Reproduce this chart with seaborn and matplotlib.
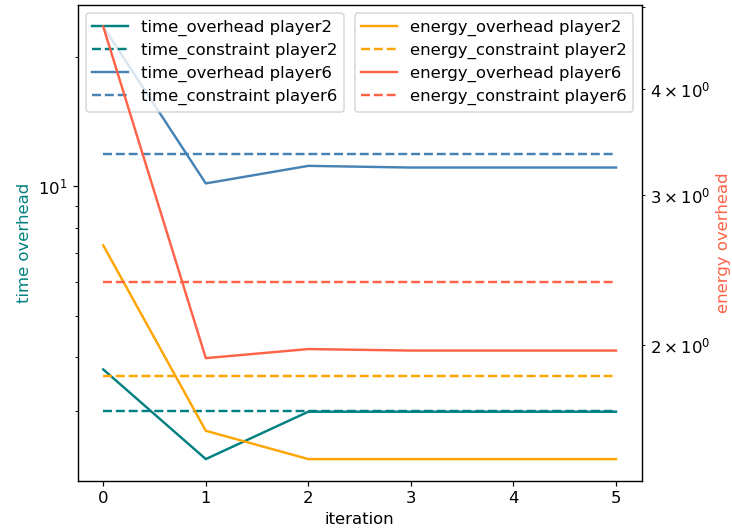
import matplotlib
matplotlib.use("Agg")
import matplotlib.pyplot as plt
import seaborn as sns
import pandas as pd

iterations = [0, 1, 2, 3, 4, 5]

time_overhead_p2 = [3.75, 2.32, 2.99, 2.99, 2.99, 2.99]
time_constraint_p2 = [3.0, 3.0, 3.0, 3.0, 3.0, 3.0]
time_overhead_p6 = [23.5, 10.15, 11.15, 11.05, 11.05, 11.05]
time_constraint_p6 = [11.85, 11.85, 11.85, 11.85, 11.85, 11.85]

energy_overhead_p2 = [2.62, 1.585, 1.468, 1.468, 1.468, 1.468]
energy_constraint_p2 = [1.837, 1.837, 1.837, 1.837, 1.837, 1.837]
energy_overhead_p6 = [4.74, 1.93, 1.978, 1.97, 1.97, 1.97]
energy_constraint_p6 = [2.37, 2.37, 2.37, 2.37, 2.37, 2.37]

time_series = [
    ("time_overhead player2", time_overhead_p2, "teal", "-"),
    ("time_constraint player2", time_constraint_p2, "teal", "--"),
    ("time_overhead player6", time_overhead_p6, "steelblue", "-"),
    ("time_constraint player6", time_constraint_p6, "steelblue", "--"),
]
energy_series = [
    ("energy_overhead player2", energy_overhead_p2, "orange", "-"),
    ("energy_constraint player2", energy_constraint_p2, "orange", "--"),
    ("energy_overhead player6", energy_overhead_p6, "tomato", "-"),
    ("energy_constraint player6", energy_constraint_p6, "tomato", "--"),
]

plt.rcParams["font.size"] = 10.9
plt.rcParams["legend.handlelength"] = 2.15
plt.rcParams["legend.labelspacing"] = 0.42

DPI = 109
fig, ax1 = plt.subplots(figsize=(732 / DPI, 530 / DPI), dpi=DPI)
fig.subplots_adjust(left=0.106, right=0.8766, top=0.9906, bottom=0.093)
ax2 = ax1.twinx()

for name, vals, color, ls in time_series:
    df = pd.DataFrame({"iteration": iterations, "value": vals})
    sns.lineplot(data=df, x="iteration", y="value", ax=ax1, color=color,
                 linestyle=ls, label=name, linewidth=1.6)
for name, vals, color, ls in energy_series:
    df = pd.DataFrame({"iteration": iterations, "value": vals})
    sns.lineplot(data=df, x="iteration", y="value", ax=ax2, color=color,
                 linestyle=ls, label=name, linewidth=1.6)

ax1.set_yscale("log")
ax2.set_yscale("log")
ax1.set_xlabel("iteration")
ax1.set_ylabel("time overhead", color="teal")
ax2.set_ylabel("energy overhead", color="tomato")

ax1.legend(loc="upper left")
ax2.legend(loc="upper right")

fig.savefig("out.png", dpi=DPI)
